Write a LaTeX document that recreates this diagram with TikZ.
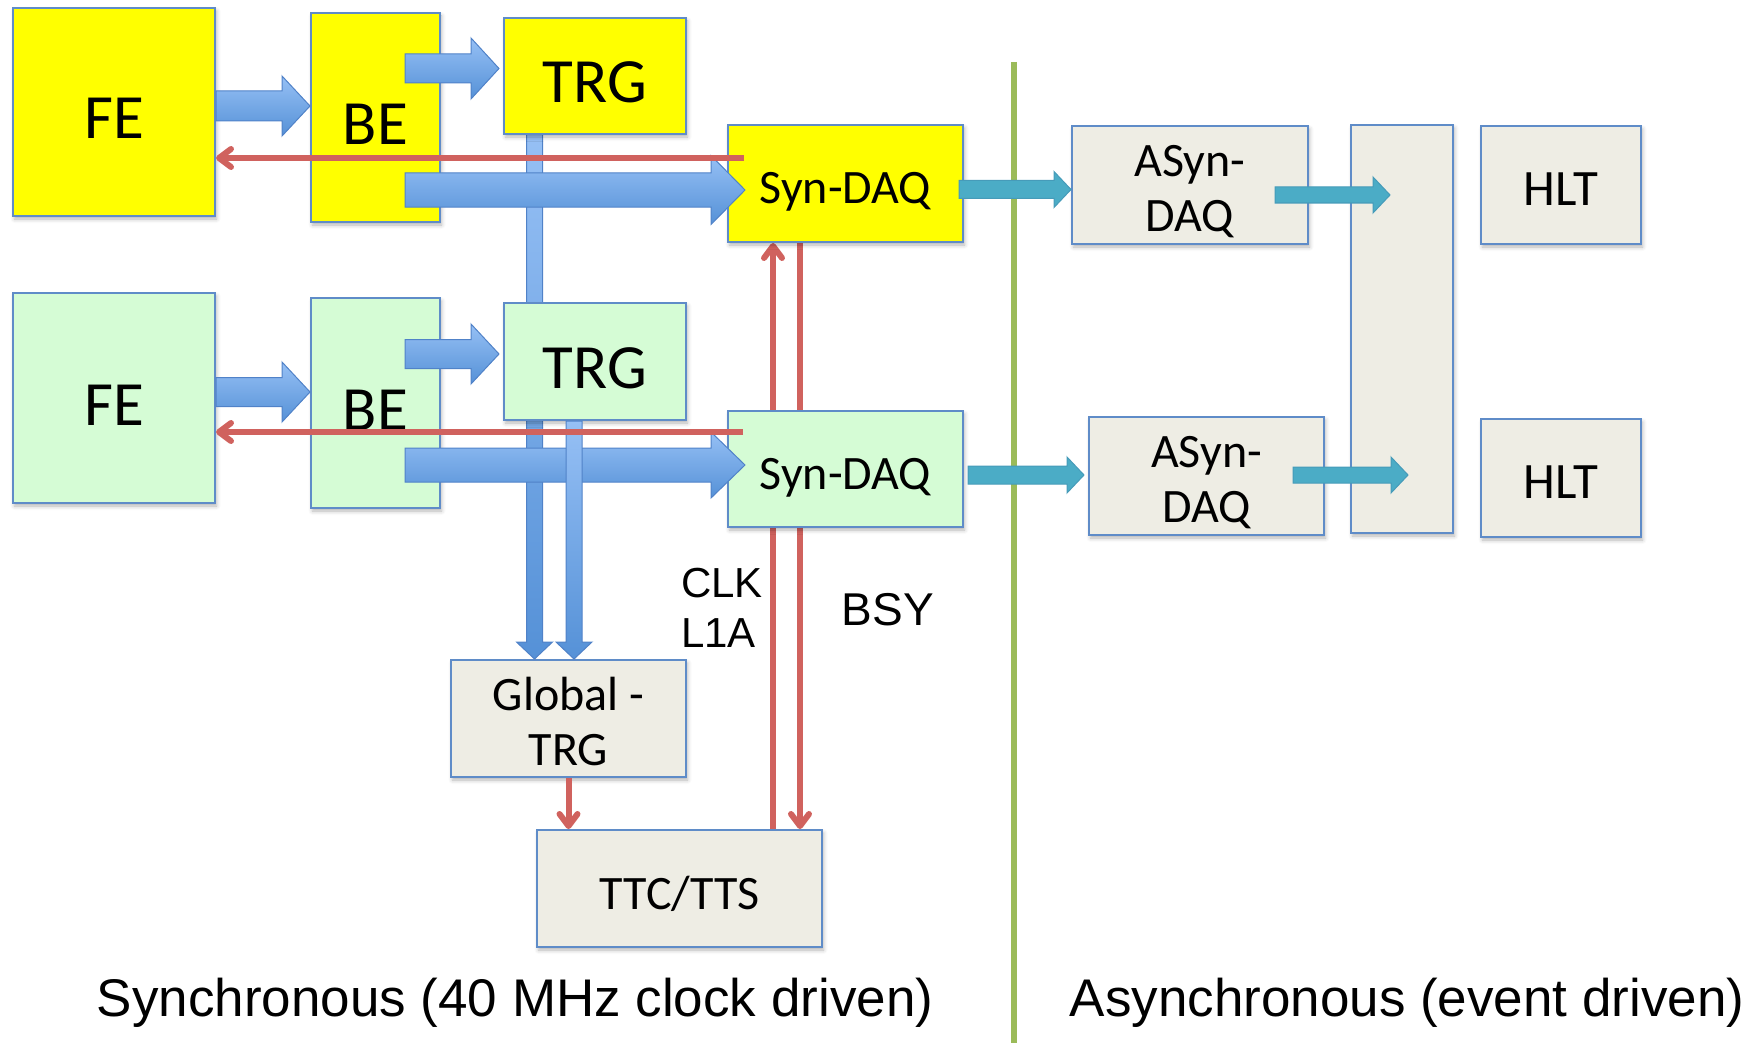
\documentclass[tikz,border=0pt]{standalone}
\usepackage{fontspec}
\setmainfont{Carlito}
\newfontfamily\arialfont{Liberation Sans}
\usetikzlibrary{arrows.meta, positioning, calc, shadows.blur}

\definecolor{feyellow}{HTML}{FFFF00}
\definecolor{fegreen}{HTML}{D5FCD5}
\definecolor{daqgray}{HTML}{EEEDE4}
\definecolor{boxline}{RGB}{95,140,200}
\definecolor{flowtop}{RGB}{150,192,245}
\definecolor{flowbot}{RGB}{85,145,215}
\definecolor{flowline}{RGB}{80,130,200}
\definecolor{evcyan}{HTML}{4BACC6}
\definecolor{evline}{RGB}{70,155,185}
\definecolor{sigred}{RGB}{208,98,94}
\definecolor{divgreen}{HTML}{9BBB59}

% block arrow: style, start, tip, shaft half, head half, head length
\newcommand{\blockarrowh}[6]{%
  \path[#1] ($(#2)+(0,-#4)$) -- ($(#3)+(-#6,-#4)$) -- ($(#3)+(-#6,-#5)$) -- (#3)
    -- ($(#3)+(-#6,#5)$) -- ($(#3)+(-#6,#4)$) -- ($(#2)+(0,#4)$) -- cycle;}
\newcommand{\blockarrowv}[6]{%
  \path[#1] ($(#2)+(-#4,0)$) -- ($(#3)+(-#4,-#6)$) -- ($(#3)+(-#5,-#6)$) -- (#3)
    -- ($(#3)+(#5,-#6)$) -- ($(#3)+(#4,-#6)$) -- ($(#2)+(#4,0)$) -- cycle;}

\begin{document}
\begin{tikzpicture}[
    x=1pt, y=-1pt, % pixel grid, y runs downwards
    >={Straight Barb[length=12pt,width=18pt,round]},
    unit/.style={draw=boxline, line width=2pt, inner sep=0pt,
        blur shadow={shadow xshift=1.5pt, shadow yshift=-3pt, shadow blur radius=4pt, shadow opacity=30},
        font=\fontsize{63}{75}\selectfont, text height=55pt, text depth=1pt},
    mid/.style={font=\fontsize{48}{58}\selectfont, text height=42pt, text depth=1pt},
    twoline/.style={font=\fontsize{48}{55}\selectfont, align=center, text height=94pt, text depth=1pt},
    flow/.style={top color=flowtop, bottom color=flowbot, draw=flowline, line width=1pt},
    event/.style={fill=evcyan, draw=evline, line width=1pt},
    sig/.style={draw=sigred, line width=6pt},
    caption/.style={font=\arialfont\fontsize{53}{60}\selectfont, inner sep=0pt}
]
    \useasboundingbox (0,0) rectangle (1755,1043);

    % Divider between the two regimes
    \coordinate (divtop) at (1014,62);
    \coordinate (divbot) at (1014,1043);
    \draw[divgreen, line width=6pt] (divtop) -- (divbot);

    % Boxes that the long paths pass behind are placed first as coordinates
    \coordinate (TRGatop) at (595,134);

    % Long trigger path from upper TRG down to Global-TRG (runs behind lower TRG)
    \node[unit, fill=daqgray, twoline, minimum width=235pt, minimum height=117pt] (GTRG) at (568.5,718.5) {Global -\\TRG};
    \coordinate (v1s) at ($(TRGatop)+(-60.5,0)$);
    \coordinate (v1t) at (GTRG.north -| v1s);
    \blockarrowv{flow}{v1s}{v1t}{8}{18}{17}

    \node[unit, fill=daqgray, mid, minimum width=285pt, minimum height=117pt] (TTC) at (679.5,888.5) {TTC/TTS};

    % Clock / busy lines (run behind lower Syn-DAQ)
    \coordinate (clks) at ($(TTC.north)+(93.5,0)$);
    \coordinate (clkt) at (clks |- 0,243);
    \draw[sig, ->] (clks) -- (clkt);
    \coordinate (bsys) at (800,242);
    \draw[sig, ->] (bsys) -- (bsys |- TTC.north);

    % Upper chain (yellow)
    \node[unit, fill=feyellow, minimum width=202pt, minimum height=208pt] (FEa) at (114,112) {FE};
    \node[unit, fill=feyellow, minimum width=129pt, minimum height=209pt] (BEa) at (375.5,117.5) {BE};
    \node[unit, fill=feyellow, minimum width=182pt, minimum height=116pt] (TRGa) at (595,76) {TRG};
    \node[unit, fill=feyellow, mid, minimum width=235pt, minimum height=117pt] (SYNa) at (845.5,183.5) {Syn-DAQ};

    % Lower chain (green)
    \node[unit, fill=fegreen, minimum width=202pt, minimum height=210pt] (FEb) at (114,398) {FE};
    \node[unit, fill=fegreen, minimum width=129pt, minimum height=210pt] (BEb) at (375.5,403) {BE};
    \node[unit, fill=fegreen, minimum width=182pt, minimum height=117pt] (TRGb) at (595,361.5) {TRG};
    \node[unit, fill=fegreen, mid, minimum width=235pt, minimum height=116pt] (SYNb) at (845.5,469) {Syn-DAQ};

    % Asynchronous side
    \node[unit, fill=daqgray, twoline, minimum width=236pt, minimum height=118pt] (ASYNa) at (1190,185) {ASyn-\\DAQ};
    \node[unit, fill=daqgray, twoline, minimum width=235pt, minimum height=118pt] (ASYNb) at (1206.5,476) {ASyn-\\DAQ};
    \node[unit, fill=daqgray, minimum width=102pt, minimum height=408pt] (MRG) at (1402,329) {};
    \node[unit, fill=daqgray, mid, font=\fontsize{51}{60}\selectfont, minimum width=160pt, minimum height=118pt] (HLTa) at (1561,185) {HLT};
    \node[unit, fill=daqgray, mid, font=\fontsize{51}{60}\selectfont, minimum width=160pt, minimum height=118pt, below=173pt of HLTa] (HLTb) {HLT};

    % Data flow, upper chain
    \coordinate (a1s) at ($(FEa.east)+(0,-6)$);
    \coordinate (a1t) at (BEa.west |- a1s);
    \blockarrowh{flow}{a1s}{a1t}{15}{30}{28}
    \coordinate (a2t) at ($(TRGa.west)+(-4,-7.5)$);
    \coordinate (a2s) at ($(BEa.east |- a2t)+(-36,0)$);
    \blockarrowh{flow}{a2s}{a2t}{14.5}{30.5}{28}
    \coordinate (a3t) at ($(SYNa.west)+(18,6.5)$);
    \coordinate (a3s) at ($(BEa.east |- a3t)+(-36,0)$);
    \blockarrowh{flow}{a3s}{a3t}{17}{34.5}{34}

    % Data flow, lower chain
    \coordinate (b1s) at ($(FEb.east)+(0,-6)$);
    \coordinate (b1t) at (BEb.west |- b1s);
    \blockarrowh{flow}{b1s}{b1t}{14.5}{30}{28}
    \coordinate (b2t) at ($(TRGb.west)+(-4,-7.5)$);
    \coordinate (b2s) at ($(BEb.east |- b2t)+(-36,0)$);
    \blockarrowh{flow}{b2s}{b2t}{14.5}{30}{28}
    \coordinate (b3t) at ($(SYNb.west)+(18,-4)$);
    \coordinate (b3s) at ($(BEb.east |- b3t)+(-36,0)$);
    \blockarrowh{flow}{b3s}{b3t}{17}{33}{34}

    % Lower TRG to Global-TRG
    \coordinate (v2s) at ($(TRGb.south)+(-21,0)$);
    \coordinate (v2t) at (GTRG.north -| v2s);
    \blockarrowv{flow}{v2s}{v2t}{8}{18}{17}

    % Back-pressure lines to the front ends
    \coordinate (r1s) at ($(SYNa.west)+(17,-25.5)$);
    \draw[sig, ->] (r1s) -- (FEa.east |- r1s);
    \coordinate (r2s) at ($(SYNb.west)+(16,-37)$);
    \draw[sig, ->] (r2s) -- (FEb.east |- r2s);
    \draw[sig, ->] (GTRG.south) -- (GTRG.south |- TTC.north);

    % Event building
    \coordinate (c1s) at ($(SYNa.east)+(-5,6)$);
    \coordinate (c1t) at (ASYNa.west |- c1s);
    \blockarrowh{event}{c1s}{c1t}{9}{18}{17}
    \coordinate (c2s) at ($(SYNb.east)+(4,6)$);
    \coordinate (c2t) at ($(ASYNb.west |- c2s)+(-4,0)$);
    \blockarrowh{event}{c2s}{c2t}{9}{18}{17}
    \coordinate (c3s) at ($(ASYNa.east)+(-34,10)$);
    \coordinate (c3t) at ($(MRG.west |- c3s)+(40,0)$);
    \blockarrowh{event}{c3s}{c3t}{8}{18}{17}
    \coordinate (c4s) at ($(ASYNb.east)+(-32,-1)$);
    \coordinate (c4t) at ($(MRG.west |- c4s)+(58,0)$);
    \blockarrowh{event}{c4s}{c4t}{8}{18}{17}

    % Signal labels
    \node[font=\arialfont\fontsize{42}{50}\selectfont, align=left, anchor=west, inner sep=0pt] (clklbl) at (681,608) {CLK\\L1A};
    \node[font=\arialfont\fontsize{46}{52}\selectfont, inner sep=0pt] (bsylbl) at (888,610) {BSY};

    % Regime captions
    \node[caption] (synlbl) at (515,1003) {Synchronous (40 MHz clock driven)};
    \node[caption] (asynlbl) at (1407,1003) {Asynchronous (event driven)};

\end{tikzpicture}
\end{document}
